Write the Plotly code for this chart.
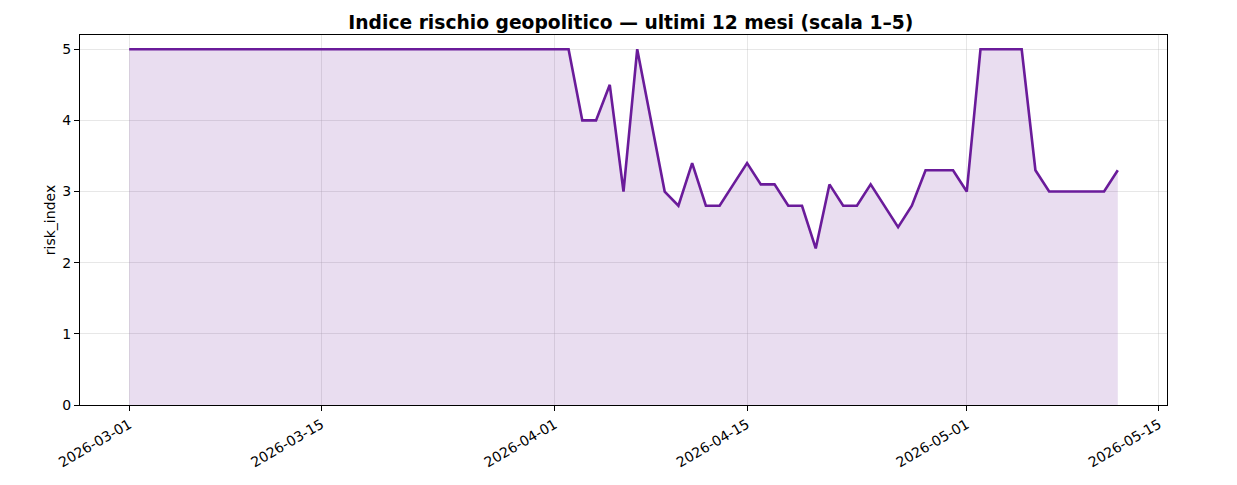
import plotly.graph_objects as go

dates = [
    "2026-03-01", "2026-04-02", "2026-04-03", "2026-04-04", "2026-04-05", "2026-04-06",
    "2026-04-07", "2026-04-08", "2026-04-09", "2026-04-10", "2026-04-11", "2026-04-12",
    "2026-04-13", "2026-04-14", "2026-04-15", "2026-04-16", "2026-04-17", "2026-04-18",
    "2026-04-19", "2026-04-20", "2026-04-21", "2026-04-22", "2026-04-23", "2026-04-24",
    "2026-04-25", "2026-04-26", "2026-04-27", "2026-04-28", "2026-04-29", "2026-04-30",
    "2026-05-01", "2026-05-02", "2026-05-03", "2026-05-04", "2026-05-05", "2026-05-06",
    "2026-05-07", "2026-05-08", "2026-05-09", "2026-05-10", "2026-05-11", "2026-05-12",
]
risk_index = [
    5.0, 5.0, 4.0, 4.0, 4.5, 3.0,
    5.0, 4.0, 3.0, 2.8, 3.4, 2.8,
    2.8, 3.1, 3.4, 3.1, 3.1, 2.8,
    2.8, 2.2, 3.1, 2.8, 2.8, 3.1,
    2.8, 2.5, 2.8, 3.3, 3.3, 3.3,
    3.0, 5.0, 5.0, 5.0, 5.0, 3.3,
    3.0, 3.0, 3.0, 3.0, 3.0, 3.3,
]

x_ticks = ["2026-03-01", "2026-03-15", "2026-04-01", "2026-04-15", "2026-05-01", "2026-05-15"]
y_ticks = [0, 1, 2, 3, 4, 5]

purple = "#6a1b9a"
font = "DejaVu Sans"

fig = go.Figure()
fig.add_trace(go.Scatter(
    x=dates, y=risk_index, mode="lines",
    line=dict(color=purple, width=2.6),
    fill="tozeroy", fillcolor="rgba(106,27,154,0.15)",
    showlegend=False,
))

axis_common = dict(
    showline=True, linecolor="black", linewidth=1.2, mirror=True,
    ticks="outside", ticklen=5, tickcolor="black", tickwidth=1,
    showgrid=True, gridcolor="rgba(176,176,176,0.3)", gridwidth=1,
    zeroline=False,
    tickfont=dict(family=font, size=14, color="black"),
)

# the page body adds 8px around the figure, so margins are shifted by that amount
fig.update_layout(
    width=1237, height=485,
    margin=dict(l=72, r=78, t=27, b=88),
    paper_bgcolor="white", plot_bgcolor="white",
    title=dict(
        text="<b>Indice rischio geopolitico — ultimi 12 mesi (scala 1–5)</b>",
        x=0.5035, xanchor="center", y=0.971, yanchor="middle",
        font=dict(family=font, size=18.7, color="black"),
    ),
    xaxis=dict(
        axis_common,
        type="date",
        range=["2026-02-25 10:00", "2026-05-15 14:00"],
        tickvals=x_ticks, ticktext=x_ticks,
        tickangle=-30,
    ),
    yaxis=dict(
        axis_common,
        range=[0, 5.2],
        tickvals=y_ticks,
        title=dict(text="risk_index", font=dict(family=font, size=14, color="black"), standoff=3),
    ),
)

fig.write_html("out.html")
